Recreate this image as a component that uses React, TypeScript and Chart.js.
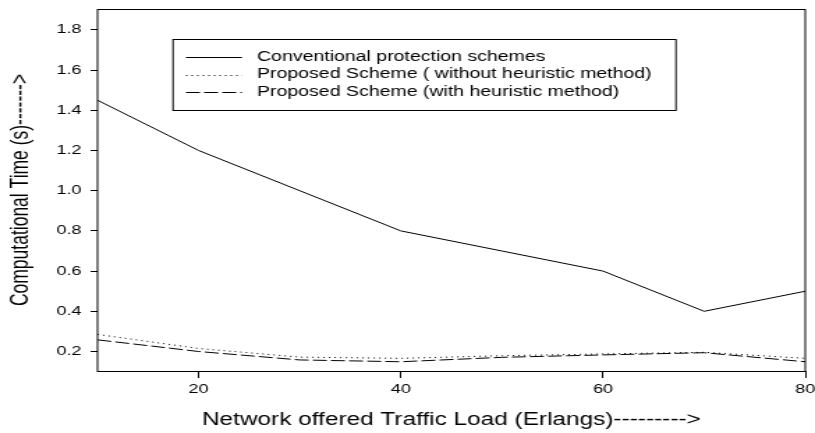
import { useEffect, useRef } from 'react';
import { Chart, registerables } from 'chart.js';

Chart.register(...registerables);

// Offered traffic load (Erlangs)
const loads = [10, 20, 30, 40, 50, 60, 70, 80];
// Computational time (s) per scheme
const conventional = [1.45, 1.2, 1.0, 0.8, 0.7, 0.6, 0.4, 0.5];
const withoutHeuristic = [0.285, 0.215, 0.172, 0.166, 0.179, 0.188, 0.196, 0.166];
const withHeuristic = [0.258, 0.2, 0.158, 0.149, 0.171, 0.183, 0.194, 0.149];

const seriesLabels = [
  'Conventional protection schemes',
  'Proposed Scheme ( without heuristic method)',
  'Proposed Scheme (with heuristic method)',
];

const xTickValues = [20, 40, 60, 80];
const yTickValues = [0.2, 0.4, 0.6, 0.8, 1.0, 1.2, 1.4, 1.6, 1.8];

const xTitle = 'Network offered Traffic Load (Erlangs)--------->';
const yTitle = 'Computational Time (s)------->';

const FONT = "'Liberation Sans', Arial, Helvetica, sans-serif";

// The drawing surface is laid out narrower and shown wider, giving the wide lettering.
const SURFACE_W = 585;
const SHOWN_W = 815;
const SHOWN_H = 433;

const framePlugin = {
  id: 'plotFrame',
  afterDraw(chart: any) {
    const { ctx, chartArea: a } = chart;
    ctx.save();
    ctx.strokeStyle = '#000';
    ctx.lineWidth = 1;
    ctx.strokeRect(a.left, Math.round(a.top) + 0.5, a.right - a.left, Math.round(a.bottom) - Math.round(a.top));
    ctx.restore();
  },
};

const boxLegendPlugin = {
  id: 'boxLegend',
  afterDraw(chart: any) {
    const { ctx } = chart;
    const boxL = 124.2;
    const boxR = 485.2;
    const boxT = 39.5;
    const boxB = 110.5;
    const rows = [57, 74.5, 92];
    const lineX0 = 133.5;
    const lineX1 = 173.7;
    const textX = 184.5;
    ctx.save();
    ctx.fillStyle = '#fff';
    ctx.fillRect(boxL, boxT, boxR - boxL, boxB - boxT);
    ctx.strokeStyle = '#000';
    ctx.lineWidth = 1;
    ctx.strokeRect(boxL, boxT, boxR - boxL, boxB - boxT);
    ctx.font = `14px ${FONT}`;
    ctx.textBaseline = 'middle';
    ctx.textAlign = 'left';
    chart.data.datasets.forEach((ds: any, i: number) => {
      const y = Math.round(rows[i]) + 0.5;
      ctx.beginPath();
      ctx.setLineDash(ds.borderDash || []);
      ctx.strokeStyle = ds.borderColor;
      ctx.lineWidth = ds.borderWidth;
      ctx.moveTo(lineX0, y);
      ctx.lineTo(lineX1, y);
      ctx.stroke();
      ctx.setLineDash([]);
      ctx.fillStyle = '#000';
      ctx.fillText(ds.label, textX, rows[i]);
    });
    ctx.restore();
  },
};

export default function App() {
  const canvasRef = useRef<HTMLCanvasElement | null>(null);

  useEffect(() => {
    const canvas = canvasRef.current;
    if (!canvas) return;

    const toPoints = (vals: number[]) => loads.map((x, i) => ({ x, y: vals[i] }));

    const chart = new Chart(canvas, {
      type: 'line',
      data: {
        datasets: [
          {
            label: seriesLabels[0],
            data: toPoints(conventional),
            borderColor: '#000',
            borderWidth: 1,
            pointRadius: 0,
            tension: 0,
          },
          {
            label: seriesLabels[1],
            data: toPoints(withoutHeuristic),
            borderColor: '#000',
            borderWidth: 1,
            borderDash: [1, 3],
            pointRadius: 0,
            tension: 0,
          },
          {
            label: seriesLabels[2],
            data: toPoints(withHeuristic),
            borderColor: '#000',
            borderWidth: 1,
            borderDash: [10, 3],
            pointRadius: 0,
            tension: 0,
          },
        ],
      },
      options: {
        responsive: false,
        devicePixelRatio: 1,
        animation: false,
        events: [],
        layout: { padding: { top: 9, right: 7, bottom: 0, left: 0 } },
        plugins: {
          legend: { display: false },
          tooltip: { enabled: false },
        },
        scales: {
          x: {
            type: 'linear',
            min: 10,
            max: 80,
            afterBuildTicks: (scale: any) => {
              scale.ticks = xTickValues.map((value) => ({ value }));
            },
            afterFit: (scale: any) => {
              scale.height = 62;
              scale.paddingLeft = 0;
              scale.paddingRight = 0;
            },
            ticks: {
              color: '#000',
              font: { family: FONT, size: 13 },
              padding: 4,
              maxRotation: 0,
              autoSkip: false,
              callback: (v: any) => String(v),
            },
            grid: {
              display: true,
              drawOnChartArea: false,
              drawTicks: true,
              tickLength: 7,
              tickColor: '#000',
              color: '#000',
            },
            border: { display: false },
            title: {
              display: true,
              text: xTitle,
              color: '#000',
              font: { family: FONT, size: 17.5 },
              padding: { top: 0, bottom: 2 },
            },
          },
          y: {
            type: 'linear',
            min: 0.103,
            max: 1.904,
            afterBuildTicks: (scale: any) => {
              scale.ticks = yTickValues.map((value) => ({ value }));
            },
            afterFit: (scale: any) => {
              scale.width = 70;
              scale.paddingTop = 0;
              scale.paddingBottom = 0;
            },
            ticks: {
              color: '#000',
              font: { family: FONT, size: 13 },
              padding: 6.4,
              autoSkip: false,
              callback: (v: any) => Number(v).toFixed(1),
            },
            grid: {
              display: true,
              drawOnChartArea: false,
              drawTicks: true,
              tickLength: 5,
              tickColor: '#000',
              color: '#000',
            },
            border: { display: false },
            title: {
              display: true,
              text: yTitle,
              color: '#000',
              font: { family: FONT, size: 17.5 },
              padding: { top: 5, bottom: 0 },
            },
          },
        },
      },
      plugins: [framePlugin, boxLegendPlugin],
    });

    return () => chart.destroy();
  }, []);

  return (
    <div style={{ position: 'absolute', left: 0, top: 0, width: SHOWN_W, height: SHOWN_H, background: '#fff' }}>
      <canvas
        ref={canvasRef}
        width={SURFACE_W}
        height={SHOWN_H}
        style={{ display: 'block', width: `${SHOWN_W}px`, height: `${SHOWN_H}px` }}
      />
    </div>
  );
}
